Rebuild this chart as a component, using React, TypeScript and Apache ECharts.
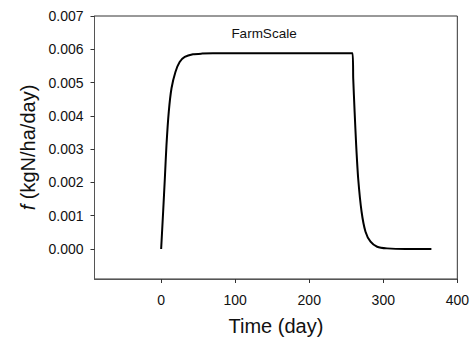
import React, { useEffect, useRef } from "react";
import * as echarts from "echarts";

const timeDays = [0, 2.7, 5.0, 7.2, 10.3, 14, 19.3, 25, 31.9, 43, 55, 70, 100, 150, 200, 258.5, 259.4, 261.3, 263.4, 266.1, 270.7, 276, 282.8, 291.7, 305, 330, 365];
const fValues = [0, 0.00112, 0.00212, 0.00312, 0.00412, 0.00483, 0.00532, 0.00562, 0.00577, 0.00585, 0.00587, 0.00588, 0.00588, 0.00588, 0.00588, 0.00588, 0.00513, 0.00412, 0.00312, 0.00212, 0.00112, 0.00052, 0.00022, 0.00007, 0.00002, 0.0, 0.0];
const xTicks = [0, 100, 200, 300, 400];
const yTicks = [0, 0.001, 0.002, 0.003, 0.004, 0.005, 0.006, 0.007];
const chartTitle = "FarmScale";

const FONT = "'Liberation Sans', Arial, sans-serif";

export default function App() {
  const ref = useRef<HTMLDivElement>(null);
  useEffect(() => {
    document.body.style.margin = "0";
    if (!ref.current) return;
    const chart = echarts.init(ref.current, null, { renderer: "svg" });
    const data = timeDays.map((t, i) => [t, fValues[i]]);
    chart.setOption({
      animation: false,
      backgroundColor: "#fff",
      textStyle: { fontFamily: FONT },
      grid: {
        left: 94.5,
        right: 13,
        top: 16,
        bottom: 64,
        show: true,
        borderColor: "#333",
        borderWidth: 1,
        backgroundColor: "transparent",
      },
      graphic: [
        {
          type: "text",
          x: 264,
          y: 33,
          style: {
            text: chartTitle,
            fontFamily: FONT,
            fontSize: 13.5,
            fill: "#111",
            align: "center",
            verticalAlign: "middle",
          },
        },
      ],
      xAxis: {
        type: "value",
        min: -90,
        max: 400,
        name: "Time (day)",
        nameLocation: "middle",
        nameGap: 37,
        nameTextStyle: { fontSize: 20, color: "#111", fontFamily: FONT },
        axisLine: { show: true, onZero: false, lineStyle: { color: "#555", width: 1 } },
        axisTick: { show: true, inside: false, length: 4, customValues: xTicks, lineStyle: { color: "#333" } },
        axisLabel: {
          customValues: xTicks,
          margin: 14,
          fontSize: 14,
          color: "#111",
          fontFamily: FONT,
        },
        splitLine: { show: false },
      },
      yAxis: {
        type: "value",
        min: -0.0009,
        max: 0.007,
        name: "{i|f} (kgN/ha/day)",
        nameLocation: "middle",
        nameGap: 56,
        nameRotate: 90,
        nameTextStyle: {
          fontSize: 20,
          color: "#111",
          fontFamily: FONT,
          rich: {
            i: { fontStyle: "italic", fontSize: 20, fontFamily: FONT, color: "#111" },
          },
        },
        axisLine: { show: true, onZero: false, lineStyle: { color: "#555", width: 1 } },
        axisTick: { show: true, inside: false, length: 4, customValues: yTicks, lineStyle: { color: "#333" } },
        axisLabel: {
          customValues: yTicks,
          margin: 11,
          fontSize: 14,
          color: "#111",
          fontFamily: FONT,
          formatter: (v: number) => v.toFixed(3),
        },
        splitLine: { show: false },
      },
      series: [
        {
          type: "line",
          data,
          showSymbol: false,
          smooth: 0.2,
          lineStyle: { color: "#000", width: 2 },
          itemStyle: { color: "#000" },
        },
      ],
    });
    return () => chart.dispose();
  }, []);
  return <div ref={ref} style={{ width: 472, height: 343 }} />;
}
